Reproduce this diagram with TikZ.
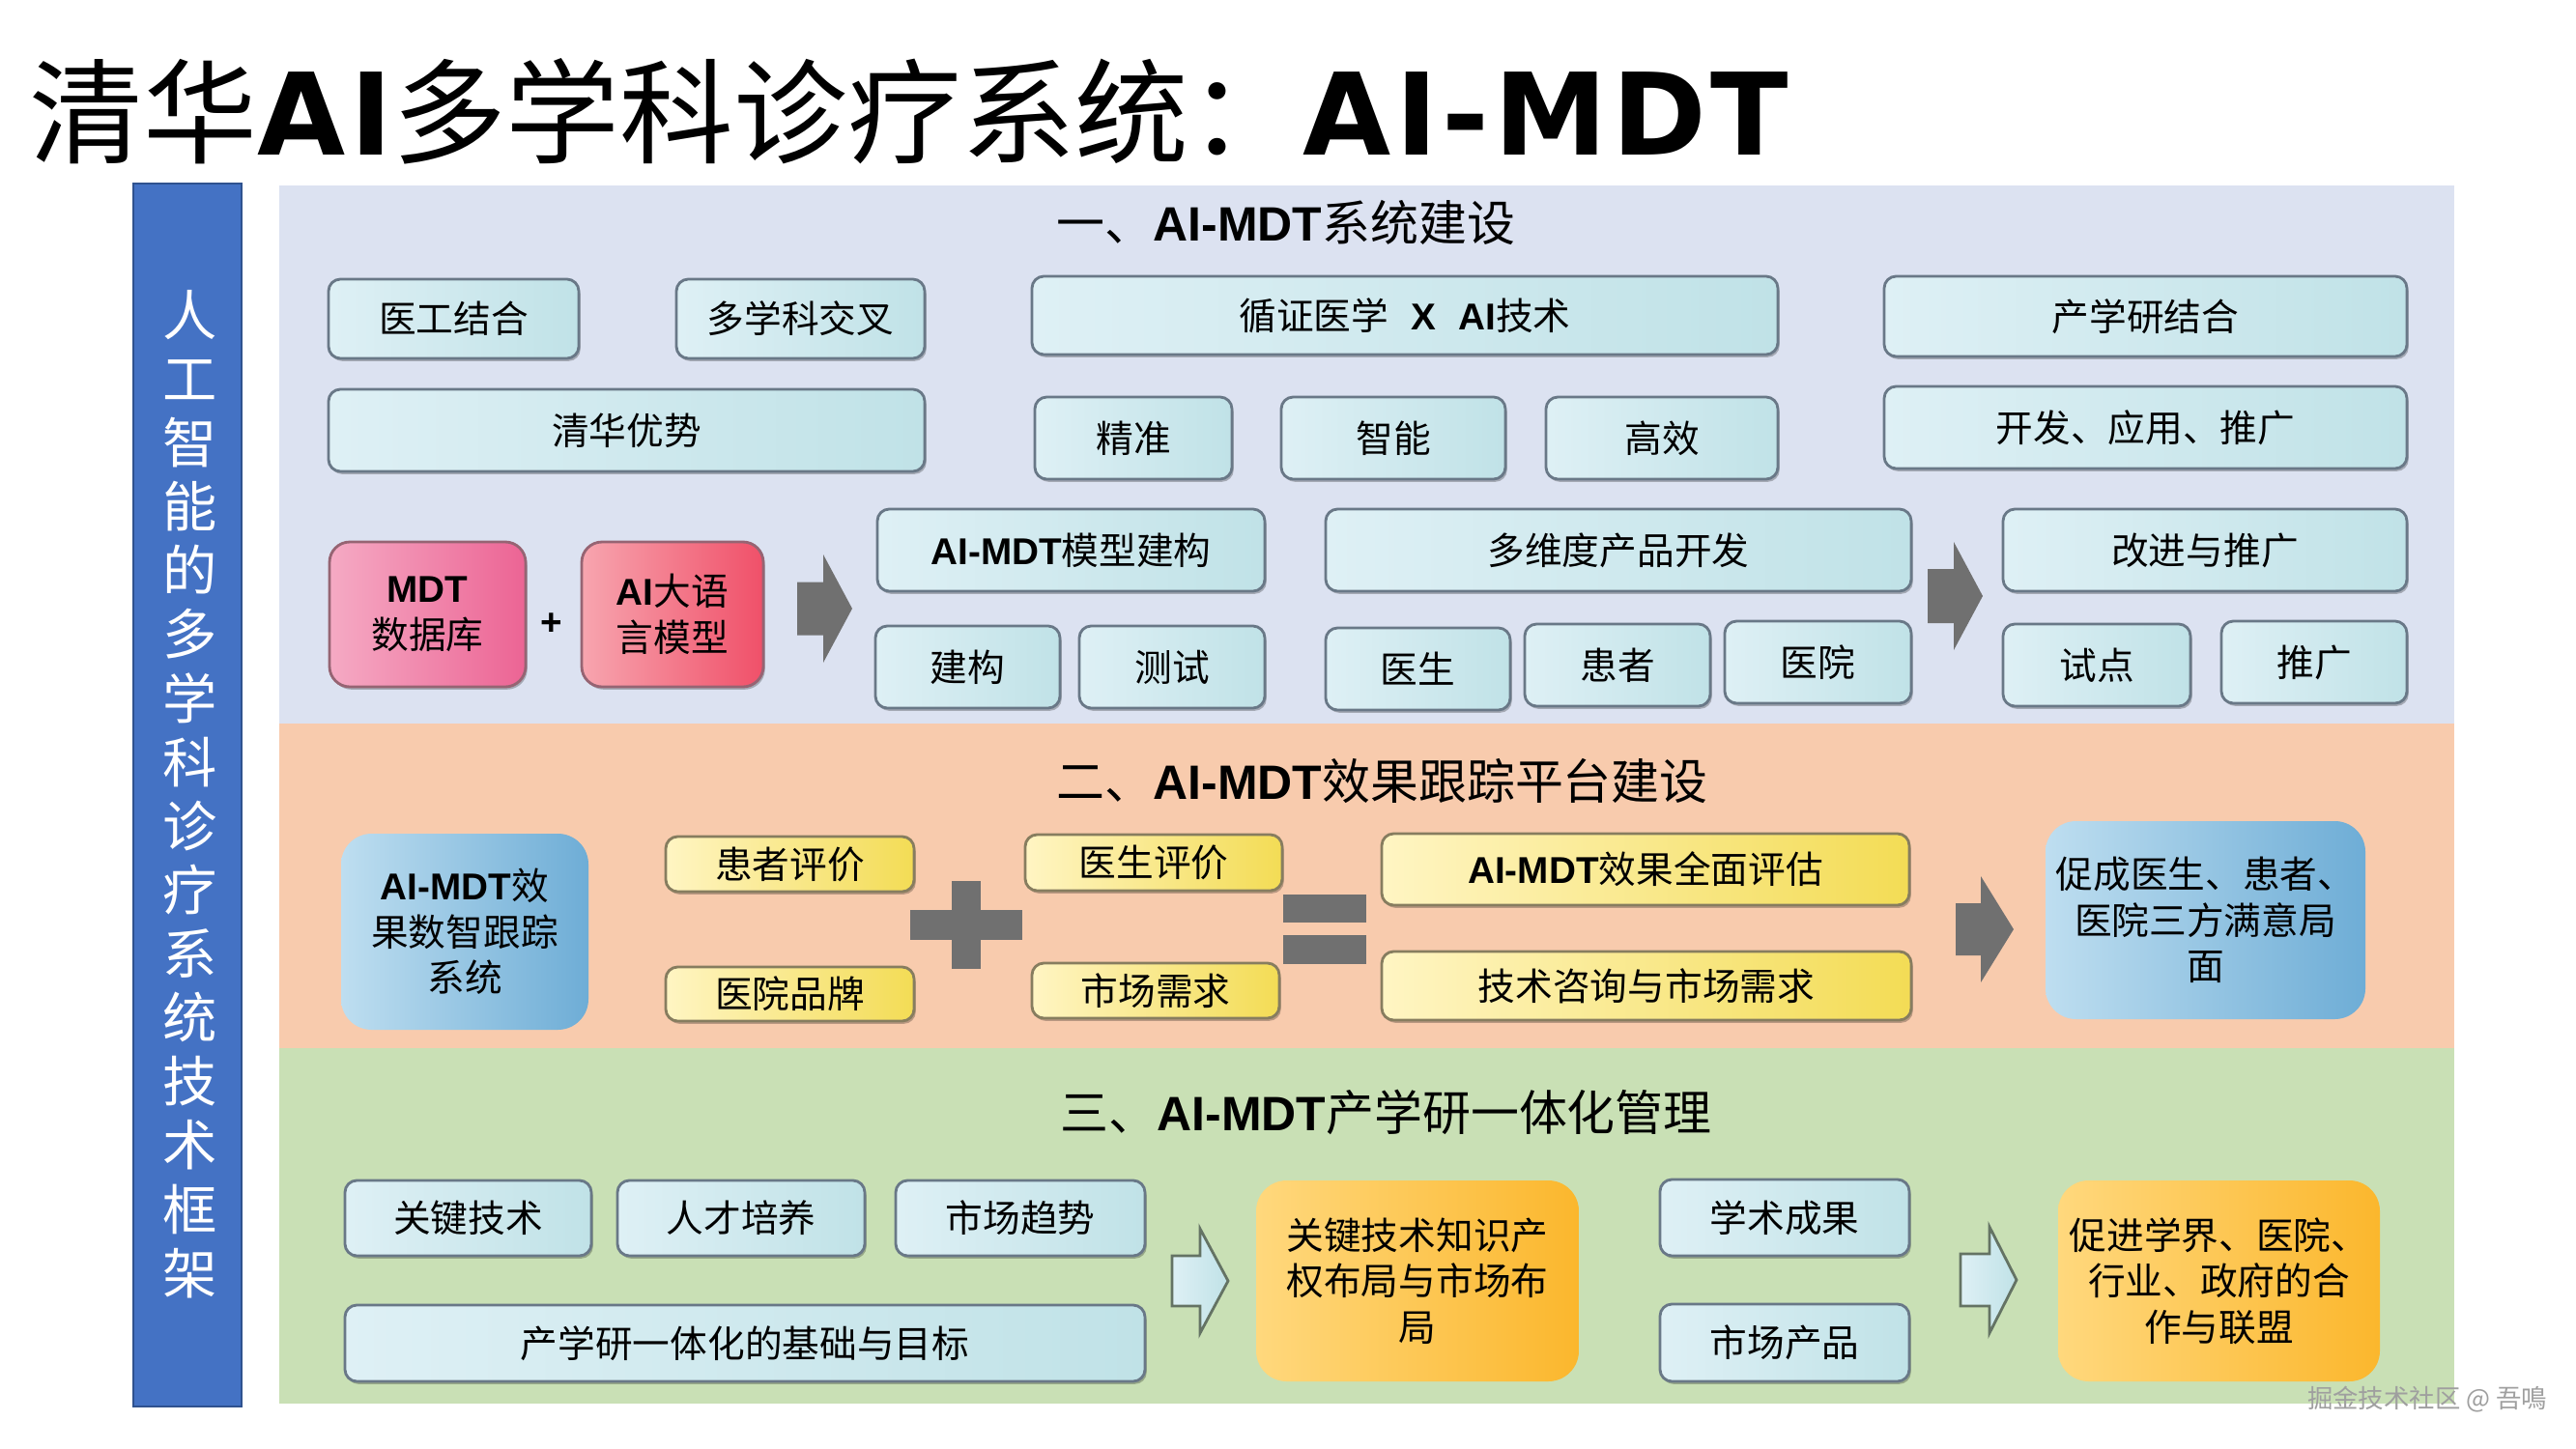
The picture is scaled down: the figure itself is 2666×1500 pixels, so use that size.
\documentclass[tikz,border=0pt]{standalone}
\usepackage{fontspec}
\setmainfont{Noto Sans CJK SC}
\newfontfamily\lat{Liberation Sans}
\newfontfamily\titlelat{DejaVu Sans}[LetterSpace=4]
\usetikzlibrary{shadows}
\newcommand{\LB}[1]{{\lat\bfseries #1}}
\definecolor{panelA}{RGB}{220,226,241}
\definecolor{panelB}{RGB}{248,203,173}
\definecolor{panelC}{RGB}{201,224,181}
\definecolor{barblue}{RGB}{68,114,196}
\definecolor{barline}{RGB}{47,82,143}
\definecolor{cyL}{RGB}{222,240,245}
\definecolor{cyR}{RGB}{192,226,231}
\definecolor{boxline}{RGB}{105,120,135}
\definecolor{yeL}{RGB}{255,245,195}
\definecolor{yeR}{RGB}{243,220,85}
\definecolor{yeline}{RGB}{135,125,95}
\definecolor{pkAL}{RGB}{245,170,196}
\definecolor{pkAR}{RGB}{236,100,148}
\definecolor{pkBL}{RGB}{247,165,175}
\definecolor{pkBR}{RGB}{240,80,105}
\definecolor{pkline}{RGB}{150,100,115}
\definecolor{blL}{RGB}{190,222,240}
\definecolor{blR}{RGB}{110,173,214}
\definecolor{orL}{RGB}{255,216,125}
\definecolor{orR}{RGB}{251,183,45}
\definecolor{greyA}{RGB}{112,112,112}
\definecolor{arline}{RGB}{100,115,100}
\newcommand{\bx}[7]{\node[#1, minimum width={(#5-#3)*0.01cm}, minimum height={(#6-#4)*0.01cm}] (#2) at ({(#3+#5)/2},{(#4+#6)/2}) {#7};}
\newcommand{\barrow}[8]{\draw[#1] (#2,{#5-#6}) -- (#3,{#5-#6}) -- (#3,{#5-#7}) -- (#4,#5) -- (#3,{#5+#7}) -- (#3,{#5+#6}) -- (#2,{#5+#6}) -- cycle;\coordinate (#8) at (#4,#5);}
\tikzset{
  cbox/.style={draw=boxline, line width=0.8pt, rounded corners=3.5pt, left color=cyL, right color=cyR,
    inner sep=0pt, align=center, font=\fontsize{11}{13.5}\selectfont,
    drop shadow={shadow xshift=0.5pt, shadow yshift=-0.8pt, opacity=0.25, fill=black}},
  ybox/.style={cbox, draw=yeline, left color=yeL, right color=yeR},
  pboxA/.style={cbox, draw=pkline, left color=pkAL, right color=pkAR, rounded corners=6pt},
  pboxB/.style={cbox, draw=pkline, left color=pkBL, right color=pkBR, rounded corners=6pt},
  softbox/.style={inner sep=0pt, align=center, rounded corners=9pt, font=\fontsize{11}{13.5}\selectfont},
  bbox/.style={softbox, left color=blL, right color=blR},
  obox/.style={softbox, left color=orL, right color=orR},
  heading/.style={anchor=west, inner sep=0pt, font=\fontsize{14.2}{16}\selectfont},
  greyshape/.style={fill=greyA, draw=none},
  lightarrow/.style={left color=cyL, right color=cyR, draw=arline, line width=0.8pt}
}
\begin{document}
\begin{tikzpicture}[x=0.01cm, y=-0.01cm]
\useasboundingbox (0,0) rectangle (2666,1500);
\fill[white] (0,0) rectangle (2666,1500);
% title
\node[anchor=west, inner sep=0pt, font=\fontsize{33.5}{38}\selectfont] (title) at (30,115)
  {清华{\titlelat\bfseries AI}多学科诊疗系统：{\titlelat\bfseries AI-MDT}};
% left bar
\node[draw=barline, line width=0.8pt, fill=barblue, minimum width=112*0.01cm, minimum height=1266*0.01cm, inner sep=0pt] (bar) at (194,823) {};
\node[text=white, align=center, inner sep=0pt, font=\fontsize{16}{18.8}\selectfont] (bartext) at (197,822)
  {人\\工\\智\\能\\的\\多\\学\\科\\诊\\疗\\系\\统\\技\\术\\框\\架};
% panels
\fill[panelA] (289,192) rectangle (2540,749);
\fill[panelB] (289,749) rectangle (2540,1085);
\fill[panelC] (289,1085) rectangle (2540,1453);
\node[heading] (h1) at (1093,231) {一、\LB{AI-MDT}系统建设};
\node[heading] (h2) at (1093,808) {二、\LB{AI-MDT}效果跟踪平台建设};
\node[heading] (h3) at (1097,1151) {三、\LB{AI-MDT}产学研一体化管理};
% panel 1
\bx{cbox}{a1}{340}{289}{599}{371}{医工结合}
\bx{cbox}{a2}{700}{289}{957}{371}{多学科交叉}
\bx{cbox}{a3}{1068}{286}{1840}{367}{循证医学\hspace{0.6em}\LB{X}\hspace{0.6em}\LB{AI}技术}
\bx{cbox}{a4}{1950}{286}{2491}{369}{产学研结合}
\bx{cbox}{b1}{340}{403}{957}{488}{清华优势}
\bx{cbox}{b2}{1071}{411}{1275}{496}{精准}
\bx{cbox}{b3}{1326}{411}{1558}{496}{智能}
\bx{cbox}{b4}{1600}{411}{1840}{496}{高效}
\bx{cbox}{b5}{1950}{400}{2491}{485}{开发、应用、推广}
\bx{pboxA}{c1}{341}{561}{544}{711}{\LB{MDT}\\数据库}
\node[inner sep=0pt, font=\fontsize{11}{13}\selectfont] (plus1) at (571,646) {\LB{+}};
\bx{pboxB}{c2}{602}{561}{790}{711}{\LB{AI}大语\\言模型}
\barrow{greyshape}{825}{852}{882}{630}{27.5}{56}{ar1}
\bx{cbox}{c3}{908}{527}{1309}{612}{\LB{AI-MDT}模型建构}
\bx{cbox}{c4}{1372}{527}{1978}{612}{多维度产品开发}
\barrow{greyshape}{1995}{2022}{2052}{617}{28}{56}{ar2}
\bx{cbox}{c5}{2073}{527}{2491}{612}{改进与推广}
\bx{cbox}{d1}{906}{648}{1097}{733}{建构}
\bx{cbox}{d2}{1117}{648}{1309}{733}{测试}
\bx{cbox}{d3}{1372}{650}{1563}{735}{医生}
\bx{cbox}{d4}{1578}{646}{1770}{731}{患者}
\bx{cbox}{d5}{1785}{643}{1978}{728}{医院}
\bx{cbox}{d6}{2073}{646}{2267}{731}{试点}
\bx{cbox}{d7}{2299}{643}{2491}{728}{推广}
% panel 2
\bx{bbox}{e1}{353}{863}{609}{1066}{\LB{AI-MDT}效\\果数智跟踪\\系统}
\bx{ybox}{e2}{689}{866}{946}{923}{患者评价}
\bx{ybox}{e3}{689}{1001}{946}{1057}{医院品牌}
\fill[greyshape] (942,942) rectangle (1058,973);
\fill[greyshape] (985,912) rectangle (1015,1003);
\bx{ybox}{e4}{1061}{864}{1327}{922}{医生评价}
\bx{ybox}{e5}{1068}{997}{1324}{1054}{市场需求}
\fill[greyshape] (1328,926) rectangle (1414,955);
\fill[greyshape] (1328,968) rectangle (1414,998);
\bx{ybox}{e6}{1430}{863}{1976}{937}{\LB{AI-MDT}效果全面评估}
\bx{ybox}{e7}{1430}{985}{1978}{1056}{技术咨询与市场需求}
\barrow{greyshape}{2024}{2050}{2084}{962}{27}{55}{ar3}
\bx{bbox}{e8}{2117}{850}{2448}{1055}{促成医生、患者、\\医院三方满意局\\面}
% panel 3
\bx{cbox}{f1}{357}{1222}{612}{1300}{关键技术}
\bx{cbox}{f2}{639}{1222}{895}{1300}{人才培养}
\bx{cbox}{f3}{927}{1222}{1185}{1300}{市场趋势}
\bx{cbox}{f4}{357}{1351}{1185}{1430}{产学研一体化的基础与目标}
\barrow{lightarrow}{1213}{1242}{1271}{1326}{26}{54}{ar4}
\bx{obox}{f5}{1300}{1222}{1634}{1430}{关键技术知识产\\权布局与市场布\\局}
\bx{cbox}{f6}{1718}{1221}{1976}{1300}{学术成果}
\bx{cbox}{f7}{1718}{1350}{1976}{1430}{市场产品}
\barrow{lightarrow}{2029}{2059}{2087}{1325}{27}{55}{ar5}
\bx{obox}{f8}{2130}{1222}{2463}{1430}{促进学界、医院、\\行业、政府的合\\作与联盟}
% watermark
\node[inner sep=0pt, text=gray!75, font=\fontsize{7.5}{9}\selectfont] (wm) at (2512,1449) {掘金技术社区 @ 吾鳴};
\end{tikzpicture}
\end{document}
